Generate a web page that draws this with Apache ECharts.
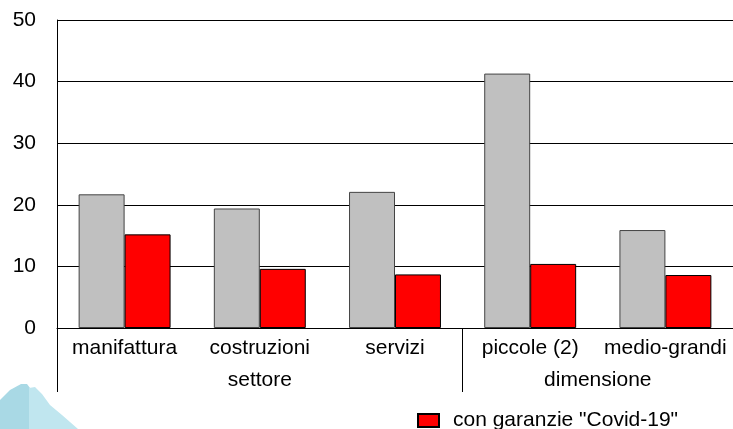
<!DOCTYPE html>
<html>
<head>
<meta charset="utf-8">
<script src="https://cdn.jsdelivr.net/npm/echarts@6/dist/echarts.min.js"></script>
<style>
  html, body { margin: 0; padding: 0; background: #fff; }
  #main { width: 733px; height: 429px; }
</style>
</head>
<body>
<div id="main"></div>
<script>
// data
var categories = ['manifattura', 'costruzioni', 'servizi', 'piccole (2)', 'medio-grandi'];
var groupLabels = ['settore', 'dimensione'];
var totale = [21.7, 19.4, 22.1, 41.3, 15.9];
var covid = [15.2, 9.6, 8.7, 10.4, 8.6];
var yTicks = [0, 10, 20, 30, 40, 50];

var font = "'Liberation Sans', Arial, sans-serif";
var fs = 21;

var chart = echarts.init(document.getElementById('main'));

chart.setOption({
  animation: false,
  textStyle: { fontFamily: font },
  grid: { left: 57, right: -3, top: 20, bottom: 101 },
  legend: {
    data: ['con garanzie "Covid-19"'],
    icon: 'rect',
    left: 417,
    top: 410,
    padding: 0,
    itemWidth: 21,
    itemHeight: 13,
    textStyle: { fontFamily: font, fontSize: fs, color: '#000', padding: [0, 0, 0, 9] }
  },
  xAxis: [{
    type: 'category',
    data: categories,
    axisLine: { lineStyle: { color: '#000', width: 1 } },
    axisTick: { show: false },
    axisLabel: { color: '#000', fontSize: fs, fontFamily: font, margin: 10, interval: 0 }
  }, {
    // group axis: settore / dimensione with separators
    type: 'value',
    position: 'bottom',
    min: 0,
    max: 5,
    axisLine: { show: false },
    splitLine: { show: false },
    axisTick: {
      show: true,
      customValues: [0, 3, 5],
      length: 64,
      lineStyle: { color: '#000', width: 1 }
    },
    axisLabel: {
      customValues: [1.5, 4],
      color: '#000',
      fontSize: fs,
      fontFamily: font,
      margin: 42,
      formatter: function (v) { return v < 3 ? groupLabels[0] : groupLabels[1]; }
    }
  }],
  yAxis: {
    type: 'value',
    min: yTicks[0],
    max: yTicks[yTicks.length - 1],
    interval: 10,
    axisLine: { show: true, lineStyle: { color: '#000', width: 1 } },
    axisTick: { show: false },
    splitLine: { lineStyle: { color: '#000', width: 1 } },
    axisLabel: { color: '#000', fontSize: fs, fontFamily: font, margin: 21 }
  },
  series: [{
    name: 'totale',
    type: 'bar',
    data: totale,
    barGap: '0%',
    barCategoryGap: '32%',
    itemStyle: { color: '#c0c0c0', borderColor: '#444', borderWidth: 1 }
  }, {
    name: 'con garanzie "Covid-19"',
    type: 'bar',
    data: covid,
    barGap: '0%',
    barCategoryGap: '32%',
    itemStyle: { color: '#ff0000', borderColor: '#000', borderWidth: 1 }
  }],
  graphic: [{
    type: 'polygon',
    shape: { points: [[0, 400], [10, 390], [21, 384], [27, 384], [30, 388], [31, 429], [0, 429]] },
    style: { fill: '#a9d9e5' },
    silent: true
  }, {
    type: 'polygon',
    shape: { points: [[29, 388], [35, 387], [42, 394], [50, 405], [62, 415], [78, 429], [29, 429]] },
    style: { fill: '#c0e6ef' },
    silent: true
  }]
});
</script>
</body>
</html>
